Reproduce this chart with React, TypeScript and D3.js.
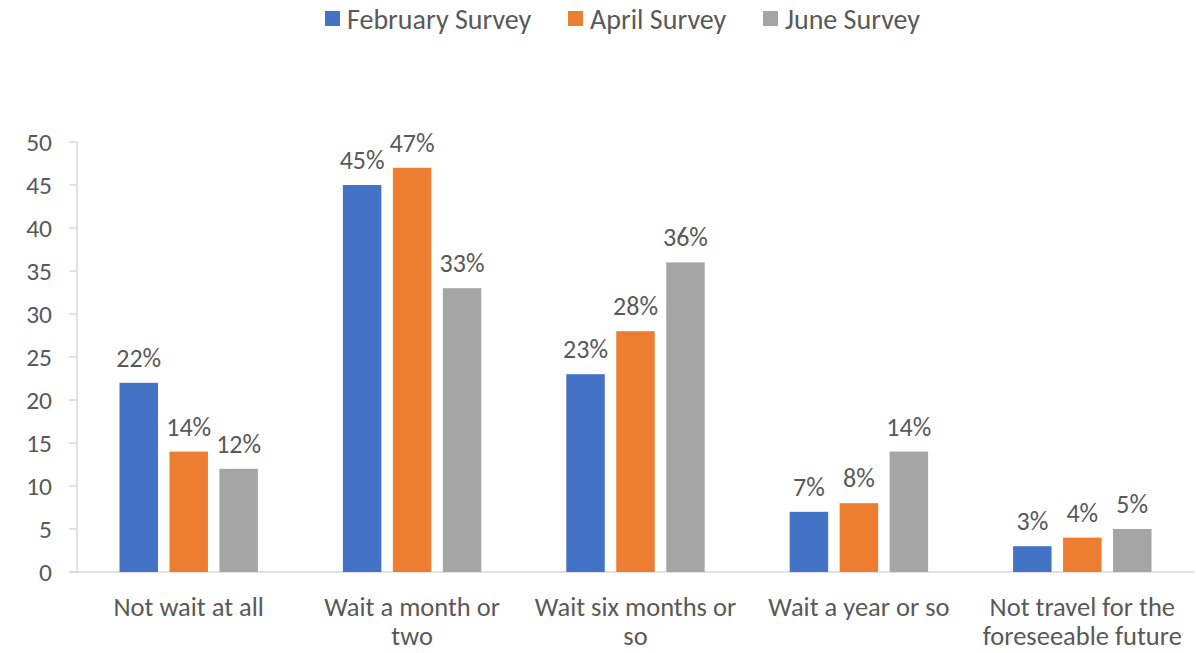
import React from 'react'
import * as d3 from 'd3'

const categories = [
  ['Not wait at all'],
  ['Wait a month or', 'two'],
  ['Wait six months or', 'so'],
  ['Wait a year or so'],
  ['Not travel for the', 'foreseeable future'],
]
const seriesNames = ['February Survey', 'April Survey', 'June Survey']
const february = [22, 45, 23, 7, 3]
const april = [14, 47, 28, 8, 4]
const june = [12, 33, 36, 14, 5]
const yTicks = [0, 5, 10, 15, 20, 25, 30, 35, 40, 45, 50]
const colors = ['#4472C4', '#ED7D31', '#A5A5A5']

const W = 1196
const H = 653
const FONT = "Carlito, Calibri, 'Liberation Sans', sans-serif"
const TEXT = '#595959'

export default function App() {
  const series = [february, april, june]
  const left = 77
  const right = 1194
  const top = 142
  const bottom = 572

  const y = d3.scaleLinear().domain([0, 50]).range([bottom, top])
  const x0 = d3.scaleBand<number>()
    .domain(d3.range(categories.length))
    .range([left, right])
    .paddingInner(0)
  const groupPad = 42.5
  const x1 = d3.scaleBand<number>()
    .domain(d3.range(series.length))
    .range([groupPad, x0.bandwidth() - groupPad])
    .paddingInner(0.23)

  // legend layout
  const legendX = [325, 568, 763]

  return (
    <div style={{ position: 'absolute', left: 0, top: 0 }}>
      <svg width={W} height={H} style={{ display: 'block', fontFamily: FONT }}>
        <rect width={W} height={H} fill="#fff" />

        {/* legend */}
        {seriesNames.map((name, i) => (
          <g key={name} transform={`translate(${legendX[i]},11)`}>
            <rect width={15} height={15} fill={colors[i]} />
            <text x={22} y={8} fontSize={28} fill={TEXT} dominantBaseline="central">
              {name}
            </text>
          </g>
        ))}

        {/* y axis */}
        <line x1={left} x2={left} y1={top} y2={bottom} stroke="#D9D9D9" strokeWidth={1.5} />
        {yTicks.map(t => (
          <g key={t}>
            <line x1={left - 8} x2={left} y1={y(t)} y2={y(t)} stroke="#D9D9D9" strokeWidth={1.5} />
            <text x={52} y={y(t)} textAnchor="end" dominantBaseline="central" fontSize={25.5} fill={TEXT}>
              {t}
            </text>
          </g>
        ))}
        {/* x axis */}
        <line x1={left - 8} x2={right} y1={bottom} y2={bottom} stroke="#D9D9D9" strokeWidth={1.5} />

        {/* bars */}
        {categories.map((cat, ci) => (
          <g key={ci} transform={`translate(${x0(ci)},0)`}>
            {series.map((s, si) => {
              const v = s[ci]
              const bx = x1(si)!
              return (
                <g key={si}>
                  <rect
                    x={bx}
                    y={y(v)}
                    width={x1.bandwidth()}
                    height={bottom - y(v)}
                    fill={colors[si]}
                  />
                  <text
                    x={bx + x1.bandwidth() / 2}
                    y={y(v) - 16}
                    textAnchor="middle"
                    fontSize={26}
                    fill={TEXT}
                  >
                    {v}%
                  </text>
                </g>
              )
            })}
            {cat.map((line, li) => (
              <text
                key={li}
                x={x0.bandwidth() / 2}
                y={616 + li * 29}
                textAnchor="middle"
                fontSize={26.5}
                fill={TEXT}
              >
                {line}
              </text>
            ))}
          </g>
        ))}
      </svg>
    </div>
  )
}
